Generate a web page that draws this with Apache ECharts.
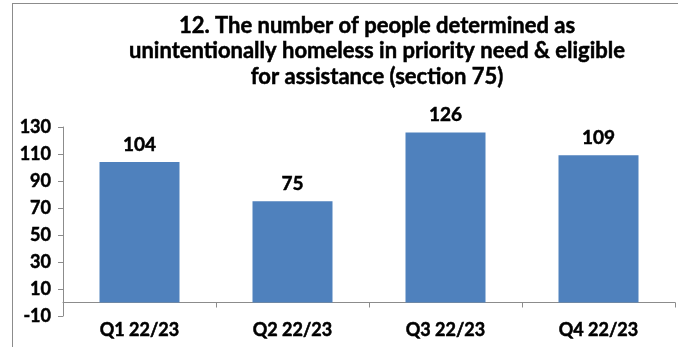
<!DOCTYPE html>
<html>
<head>
<meta charset="utf-8">
<script src="https://cdn.jsdelivr.net/npm/echarts@6/dist/echarts.min.js"></script>
<style>
  html, body { margin: 0; padding: 0; background: #fff; }
  #frame { position: absolute; left: 12px; top: 3px; width: 680px; height: 360px;
           border: 1px solid #8c8c8c; box-sizing: border-box; }
  #chart { position: absolute; left: 0; top: 0; width: 678px; height: 347px; }
</style>
</head>
<body>
<div id="frame"></div>
<div id="chart"></div>
<script>
// Quarterly counts, 2022/23
const categories = ['Q1 22/23', 'Q2 22/23', 'Q3 22/23', 'Q4 22/23'];
const values = [104, 75, 126, 109];
const yMin = -10;
const yMax = 130;
const yStep = 20;
const titleText = '12. The number of people determined as\nunintentionally homeless in priority need & eligible\nfor assistance (section 75)';

const FONT = 'Lato';
// a thin outline in the text colour gives the labels a heavier weight
const heavy = { fontFamily: FONT, fontWeight: 'bold', color: '#000', textBorderColor: '#000', textBorderWidth: 0.5 };
const chart = echarts.init(document.getElementById('chart'), null, { renderer: 'canvas' });

chart.setOption({
  animation: false,
  backgroundColor: 'transparent',
  title: {
    text: titleText,
    left: 372,
    top: 8,
    textAlign: 'center',
    textStyle: Object.assign({}, heavy, { fontSize: 22, lineHeight: 25.5 })
  },
  grid: { left: 63, right: 3, top: 127, bottom: 31, containLabel: false },
  xAxis: [
    {
      type: 'category',
      data: categories,
      axisLine: { onZero: true, lineStyle: { color: '#8c8c8c', width: 1 } },
      axisTick: { show: true, length: 5, lineStyle: { color: '#8c8c8c' } },
      axisLabel: { show: false }
    },
    {
      type: 'category',
      data: categories,
      position: 'bottom',
      axisLine: { show: false, onZero: false },
      axisTick: { show: false },
      axisLabel: Object.assign({ margin: 5, fontSize: 18 }, heavy)
    }
  ],
  yAxis: {
    type: 'value',
    min: yMin,
    max: yMax,
    interval: yStep,
    axisLine: { show: true, lineStyle: { color: '#8c8c8c', width: 1 } },
    axisTick: { show: true, length: 5, lineStyle: { color: '#8c8c8c' } },
    splitLine: { show: false },
    axisLabel: Object.assign({ margin: 12, fontSize: 18 }, heavy)
  },
  series: [
    {
      type: 'bar',
      xAxisIndex: 0,
      data: values,
      barWidth: 80,
      itemStyle: { color: '#4f81bd' },
      label: Object.assign({ show: true, position: 'top', distance: 8, fontSize: 19 }, heavy)
    }
  ]
});
</script>
</body>
</html>
